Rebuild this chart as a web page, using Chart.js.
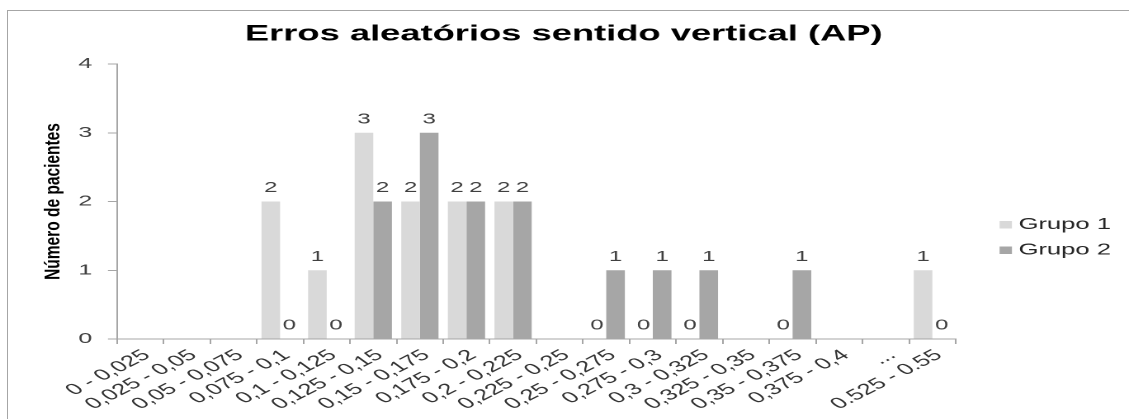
<!DOCTYPE html>
<html>
<head>
<meta charset="utf-8">
<script src="https://cdn.jsdelivr.net/npm/chart.js@4"></script>
<style>
  html, body { margin: 0; padding: 0; background: #fff; overflow: hidden; width: 1129px; height: 419px; }
  #frame { position: absolute; left: 7px; top: 10px; width: 1200px; height: 500px;
           border-left: 1px solid #a6a6a6; border-top: 1px solid #a6a6a6; }
  #stage { position: absolute; left: 0; top: 0; width: 684px; height: 419px;
           transform-origin: 0 0; transform: scale(1.65058, 1); }
</style>
</head>
<body>
<div id="frame"></div>
<div id="stage"><canvas id="c"></canvas></div>
<script>
// Horizontal stretch applied to the drawing surface (wide lettering look)
const S = 1129 / 684;

const chartTitle = 'Erros aleatórios sentido vertical (AP)';
const yAxisTitle = 'Número de pacientes';
const seriesNames = ['Grupo 1', 'Grupo 2'];

const categories = [
  '0 - 0,025', '0,025 - 0,05', '0,05 - 0,075', '0,075 - 0,1', '0,1 - 0,125',
  '0,125 - 0,15', '0,15 - 0,175', '0,175 - 0,2', '0,2 - 0,225', '0,225 - 0,25',
  '0,25 - 0,275', '0,275 - 0,3', '0,3 - 0,325', '0,325 - 0,35', '0,35 - 0,375',
  '0,375 - 0,4', '...', '0.525 - 0.55'
];

// patient counts per interval (null = no entry in that interval)
const grupo1 = [null, null, null, 2, 1, 3, 2, 2, 2, null, 0, 0, 0, null, 0, null, null, 1];
const grupo2 = [null, null, null, 0, 0, 2, 3, 2, 2, null, 1, 1, 1, null, 1, null, null, 0];

const yMin = 0;
const yMax = 4;
const yStep = 1;

const FONT = '"Liberation Sans", Arial, sans-serif';
Chart.defaults.font.family = FONT;

// value written above each bar
const valueLabels = {
  id: 'valueLabels',
  afterDatasetsDraw(chart) {
    const ctx = chart.ctx;
    ctx.save();
    ctx.font = '14.5px ' + FONT;
    ctx.fillStyle = '#404040';
    ctx.textAlign = 'center';
    ctx.textBaseline = 'alphabetic';
    chart.data.datasets.forEach((ds, i) => {
      chart.getDatasetMeta(i).data.forEach((bar, j) => {
        const v = ds.data[j];
        if (v === null || v === undefined) return;
        ctx.fillText(String(v), bar.x, bar.y - 9.5);
      });
    });
    ctx.restore();
  }
};

// vertical axis title, drawn with a milder horizontal stretch
const sideTitle = {
  id: 'sideTitle',
  afterDraw(chart) {
    const { ctx, chartArea } = chart;
    ctx.save();
    ctx.translate(chartArea.left - 38.5, (chartArea.top + chartArea.bottom) / 2);
    ctx.scale(1.4 / S, 1);
    ctx.rotate(-Math.PI / 2);
    ctx.font = 'bold 15.5px ' + FONT;
    ctx.fillStyle = '#000';
    ctx.textAlign = 'center';
    ctx.textBaseline = 'middle';
    ctx.fillText(yAxisTitle, 0, 0);
    ctx.restore();
  }
};

new Chart(document.getElementById('c'), {
  type: 'bar',
  data: {
    labels: categories,
    datasets: [
      { label: seriesNames[0], data: grupo1, backgroundColor: '#d9d9d9', borderWidth: 0 },
      { label: seriesNames[1], data: grupo2, backgroundColor: '#a6a6a6', borderWidth: 0 }
    ]
  },
  options: {
    responsive: true,
    maintainAspectRatio: false,
    animation: false,
    devicePixelRatio: 2,
    layout: { padding: { left: 0, right: 0.9, top: 0, bottom: 0 } },
    datasets: { bar: { categoryPercentage: 0.8, barPercentage: 1 } },
    plugins: {
      title: {
        display: true, text: chartTitle, color: '#000',
        font: { size: 22, weight: 'bold' },
        padding: { top: 21, bottom: 16.6 }
      },
      legend: {
        position: 'right',
        align: 'center',
        title: { display: true, text: '', padding: { top: 41.6, bottom: 0 } },
        labels: {
          usePointStyle: true, pointStyle: 'rect',
          boxWidth: 0.01, boxHeight: 7.5, padding: 10,
          color: '#262626', font: { size: 15.5 }
        }
      },
      tooltip: { enabled: false }
    },
    scales: {
      x: {
        grid: { display: true, drawOnChartArea: false, drawTicks: true, tickLength: 5, color: '#a6a6a6', offset: true },
        border: { display: true, color: '#a6a6a6' },
        ticks: { autoSkip: false, minRotation: 40, maxRotation: 40, padding: 2, labelOffset: 4, color: '#333', font: { size: 15.5 } },
        afterFit(s) { s.height = 80; }
      },
      y: {
        min: yMin, max: yMax,
        ticks: { stepSize: yStep, padding: 9.5, color: '#404040', font: { size: 15 } },
        grid: { drawOnChartArea: false, drawTicks: true, tickLength: 5.5, color: '#a6a6a6' },
        border: { display: true, color: '#a6a6a6' },
        afterFit(s) { s.width = 70.9; }
      },
      gutter: {
        type: 'linear', position: 'right', axis: 'y', display: true,
        grid: { display: false }, border: { display: false }, ticks: { display: false },
        afterFit(s) { s.width = 20.35; }
      }
    }
  },
  plugins: [valueLabels, sideTitle]
});
</script>
</body>
</html>
